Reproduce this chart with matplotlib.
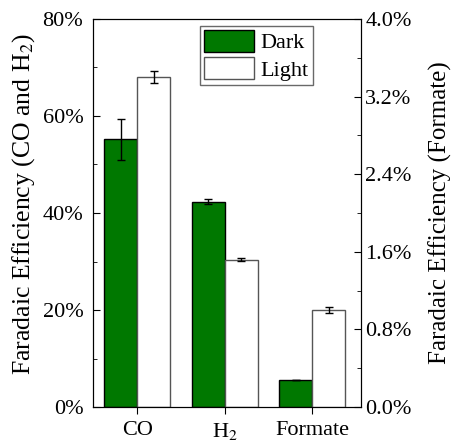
import matplotlib
matplotlib.use("Agg")
import matplotlib.pyplot as plt
import numpy as np
from matplotlib.ticker import FuncFormatter, MultipleLocator

categories = ["CO", "H$_2$", "Formate"]
dark_main = [55.2, 42.3]
dark_main_err = [4.2, 0.5]
light_main = [68.0, 30.4]
light_main_err = [1.2, 0.35]
dark_formate = [0.278]
dark_formate_err = [0.004]
light_formate = [0.997]
light_formate_err = [0.03]

plt.rcParams['font.family'] = ['Liberation Serif', 'DejaVu Serif']
plt.rcParams['mathtext.fontset'] = 'stix'
fs = 16

fig = plt.figure(figsize=(4.57, 4.43), dpi=100)
ax = fig.add_axes([93/457, 1 - 407/443, 268/457, 388/443])
ax2 = ax.twinx()

w = 0.377
x = np.arange(len(categories))
green = '#007800'
ekw = dict(ecolor='black', capsize=3, elinewidth=1, capthick=1)

ax.bar(x[:2] - w/2, dark_main, w, yerr=dark_main_err, color=green, edgecolor='black', linewidth=1, error_kw=ekw, label='Dark', zorder=2)
ax.bar(x[:2] + w/2, light_main, w, yerr=light_main_err, color='white', edgecolor='#555555', linewidth=1, error_kw=ekw, label='Light', zorder=2)
ax2.bar(x[2:] - w/2, dark_formate, w, yerr=dark_formate_err, color=green, edgecolor='black', linewidth=1, error_kw=ekw, zorder=2)
ax2.bar(x[2:] + w/2, light_formate, w, yerr=light_formate_err, color='white', edgecolor='#555555', linewidth=1, error_kw=ekw, zorder=2)

ax.set_xlim(-0.506, 2.557)
ax.set_ylim(0, 80)
ax2.set_ylim(0, 4)
ax.set_xticks(x)
ax.set_xticklabels(categories, fontsize=fs)
ax.yaxis.set_major_locator(MultipleLocator(20))
ax.yaxis.set_minor_locator(MultipleLocator(10))
ax2.yaxis.set_major_locator(MultipleLocator(0.8))
ax2.yaxis.set_minor_locator(MultipleLocator(0.4))
ax.yaxis.set_major_formatter(FuncFormatter(lambda v, p: f"{v:.0f}%"))
ax2.yaxis.set_major_formatter(FuncFormatter(lambda v, p: f"{v:.1f}%"))

ax.tick_params(axis='y', direction='in', length=5, labelsize=fs, pad=7)
ax.tick_params(axis='y', which='minor', direction='in', length=3)
ax.tick_params(axis='x', direction='out', length=5, labelsize=fs, pad=5)
ax2.tick_params(axis='y', direction='in', length=5, labelsize=fs, pad=3)
ax2.tick_params(axis='y', which='minor', direction='in', length=3)

ax.set_ylabel("Faradaic Efficiency (CO and H$_2$)", fontsize=18.5, labelpad=4)
ax.yaxis.label.set_y(0.522)
ax2.set_ylabel("Faradaic Efficiency (Formate)", fontsize=18, labelpad=12)

leg = ax.legend(loc='upper right', bbox_to_anchor=(0.82, 0.983), fontsize=fs, frameon=True, fancybox=False,
                edgecolor='#444444', handlelength=2.25, handleheight=1.15, borderpad=0.18, labelspacing=0.18,
                handletextpad=0.28, borderaxespad=0)
leg.get_frame().set_linewidth(1)

fig.savefig("out.png", dpi=100)
